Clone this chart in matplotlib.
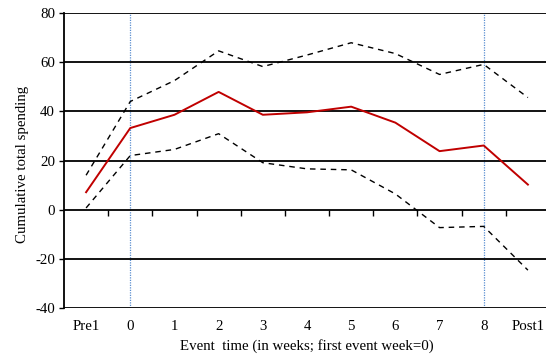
import matplotlib
matplotlib.use("Agg")
import matplotlib.pyplot as plt
import numpy as np

categories = ["Pre1", "0", "1", "2", "3", "4", "5", "6", "7", "8", "Post1"]
mean_values = [7.1, 33.2, 38.6, 47.9, 38.6, 39.6, 41.9, 35.4, 23.8, 26.1, 10.2]
upper_values = [14.0, 44.0, 52.5, 64.6, 58.2, 62.9, 67.9, 63.5, 55.0, 59.1, 45.6]
lower_values = [0.7, 22.0, 24.5, 30.9, 19.1, 16.6, 16.2, 6.4, -7.3, -6.8, -24.6]
event_markers = ["0", "8"]
y_ticks = [-40, -20, 0, 20, 40, 60, 80]

plt.rcParams['font.family'] = ['Liberation Serif', 'DejaVu Serif']
FS = 10.7

fig = plt.figure(figsize=(5.46, 3.58), dpi=100)
W, H = 546, 358
ax = fig.add_axes([64 / W, 1 - 308 / H, (550 - 64) / W, (308 - 13) / H])

x = np.arange(len(categories))

for lab in event_markers:
    xi = categories.index(lab)
    ax.axvline(xi, color='#5b8fd0', linestyle=(0, (1, 1)), linewidth=0.9, zorder=1)

ax.set_ylim(-40, 80)
ax.set_xlim(-0.5, len(categories) - 0.5)
ax.set_yticks(y_ticks)
ax.set_yticklabels([str(v) for v in y_ticks], fontsize=FS)
ax.grid(axis='y', color='black', linewidth=1.3, zorder=2)
ax.set_axisbelow(False)

ax.plot(x, upper_values, color='black', linestyle=(0, (4, 3.5)), linewidth=1.0, zorder=3)
ax.plot(x, lower_values, color='black', linestyle=(0, (4, 3.5)), linewidth=1.0, zorder=3)
ax.plot(x, mean_values, color='#c00000', linewidth=1.4, zorder=4)

for s in ['top', 'right', 'bottom']:
    ax.spines[s].set_visible(False)
ax.spines['left'].set_linewidth(1.3)
ax.spines['left'].set_color('black')
ax.tick_params(axis='y', length=3.5, width=1.0, pad=3, labelsize=FS)

ax.set_xticks(x)
ax.set_xticklabels(categories, fontsize=FS)
ax.tick_params(axis='x', length=0, pad=9)

# category-boundary ticks on the zero line
frac0 = (0 - (-40)) / (80 - (-40))
sec = ax.secondary_xaxis(frac0)
sec.set_xticks(np.arange(len(categories) - 1) + 0.5)
sec.set_xticklabels([])
sec.tick_params(axis='x', direction='out', length=4, width=1.0, color='black')
sec.spines['bottom'].set_visible(False)
sec.spines['top'].set_visible(False)

ax.set_xlabel("Event  time (in weeks; first event week=0)", fontsize=FS, labelpad=4)
ax.set_ylabel("Cumulative total spending", fontsize=FS)
ax.yaxis.set_label_coords(-0.072, 0.485)

fig.savefig("out.png", dpi=100)
